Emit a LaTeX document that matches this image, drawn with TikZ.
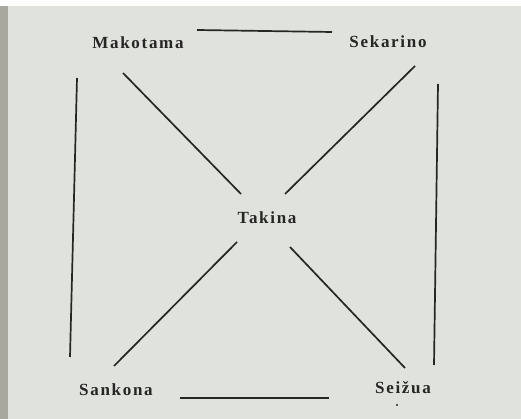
\documentclass[tikz,border=0pt]{standalone}
\usepackage{fontspec}
\setmainfont{Liberation Serif}
\newfontfamily\spacedfont[LetterSpace=10]{Liberation Serif}
\usetikzlibrary{positioning}
\definecolor{paper}{RGB}{224,226,222}
\definecolor{paperedge}{RGB}{168,168,158}
\definecolor{ink}{RGB}{38,38,36}
\tikzset{
  clan/.style={font=\spacedfont\fontsize{17}{19}\selectfont\bfseries, text=ink, inner sep=1pt},
  link/.style={draw=ink, line width=1.7pt},
}

\begin{document}
\begin{tikzpicture}[x=1pt, y=-1pt]
    % paper
    \fill[paper] (0,0) rectangle (521,419);
    \fill[white!92!paper] (0,0) rectangle (521,6);
    \fill[paperedge] (0,6) rectangle (8,419);
    \useasboundingbox (0,0) rectangle (521,419);

    \node[clan] (mak) at (138,43)  {Makotama};
    \node[clan] (sek) at (388,42)  {Sekarino};
    \node[clan] (tak) at (267,218) {Takina};
    \node[clan] (san) at (116,390) {Sankona};
    \node[clan] (sei) at (403,388) {Seižua};

    % outer square
    \draw[link] ([shift={(59,-13)}]mak.center) -- ([shift={(-56,-10)}]sek.center);
    \draw[link] ([shift={(50,42)}]sek.center) -- ([shift={(31,-23)}]sei.center);
    \draw[link] ([shift={(-74,10)}]sei.center) -- ([shift={(64,8)}]san.center);
    \draw[link] ([shift={(-46,-33)}]san.center) -- ([shift={(-61,35)}]mak.center);
    % to the centre
    \draw[link] ([shift={(-15,30)}]mak.center) -- ([shift={(-26,-24)}]tak.center);
    \draw[link] ([shift={(27,24)}]sek.center) -- ([shift={(18,-24)}]tak.center);
    \draw[link] ([shift={(-30,24)}]tak.center) -- ([shift={(-2,-24)}]san.center);
    \draw[link] ([shift={(23,29)}]tak.center) -- ([shift={(2,-20)}]sei.center);

    \fill[ink] ([shift={(-6,17)}]sei.center) circle (1.2pt);
\end{tikzpicture}
\end{document}
